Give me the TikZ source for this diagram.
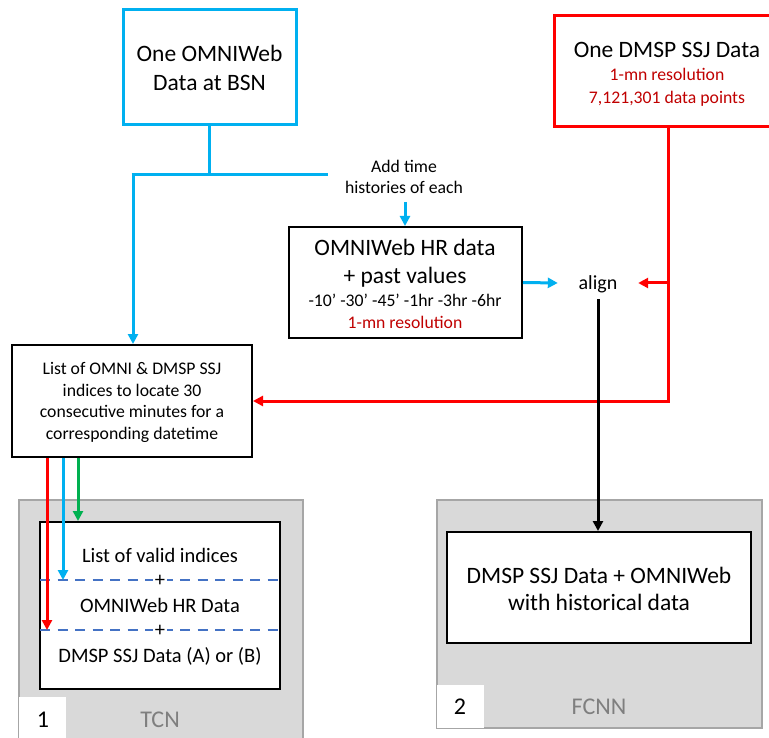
\documentclass[tikz,border=0pt]{standalone}
\usepackage{fontspec}
\setmainfont{Carlito}
\usetikzlibrary{arrows.meta}
\definecolor{cblue}{HTML}{00B0F0}
\definecolor{cred}{HTML}{FF0000}
\definecolor{dred}{HTML}{C00000}
\definecolor{cgreen}{HTML}{00B050}
\definecolor{gfill}{HTML}{D9D9D9}
\definecolor{gline}{HTML}{A6A6A6}
\definecolor{gtext}{HTML}{7F7F7F}
\definecolor{dashc}{HTML}{4472C4}
\newcommand{\bigf}{\fontsize{23.5}{28.5}\selectfont}
\newcommand{\smallf}{\fontsize{17.7}{21.5}\selectfont}
\newcommand{\midf}{\fontsize{20.5}{24.5}\selectfont}
\newcommand{\labf}{\fontsize{24}{28}\selectfont}
\begin{document}
\begin{tikzpicture}[x=1pt,y=-1pt,
  box/.style={draw=black,line width=2pt,fill=white,align=center,inner sep=0pt,anchor=center},
  graybox/.style={draw=gline,line width=2pt,fill=gfill,inner sep=0pt,anchor=center},
  tag/.style={fill=white,inner sep=0pt,anchor=center},
  txt/.style={inner sep=0pt,anchor=base},
  tip/.style={-{Triangle[length=10pt,width=10pt]}},
  conn/.style={line width=3pt},
  dashsep/.style={draw=dashc,line width=2pt,dash pattern=on 10pt off 7.5pt}]
\useasboundingbox (0,0) rectangle (769,738);
\clip (0,0) rectangle (769,738);
\fill[white] (0,0) rectangle (769,738);

% gray panels
\node[graybox,minimum width=284pt,minimum height=260pt] (g1) at (161,630) {};
\node[graybox,minimum width=325pt,minimum height=228pt] (g2) at (599.5,614) {};
\node[tag,minimum width=47pt,minimum height=50pt] (lab1) at (42.5,722) {};
\node[tag,minimum width=47pt,minimum height=43pt] (lab2) at (460.5,706.5) {};
\node[txt,font=\labf] (n1) at (43,727.5) {1};
\node[txt,font=\labf,text=gtext] (tcn) at (160,727.5) {TCN};
\node[txt,font=\labf] (n2) at (460,714.7) {2};
\node[txt,font=\labf,text=gtext] (fcnn) at (599,714.7) {FCNN};

% top boxes
\node[box,draw=cblue,line width=3pt,minimum width=173pt,minimum height=115pt] (omni) at (209.5,67.5) {};
\node[txt,font=\bigf] (omni1) at (209.5,61.6) {One OMNIWeb};
\node[txt,font=\bigf] (omni2) at (209.5,90.6) {Data at BSN};

\node[box,draw=cred,line width=3pt,minimum width=228pt,minimum height=111pt] (dmsp) at (668,71.5) {};
\node[txt,font=\bigf] (dm1) at (667,57.6) {One DMSP SSJ Data};
\node[txt,font=\smallf,text=dred] (dm2) at (667,80.7) {1-mn resolution};
\node[txt,font=\smallf,text=dred] (dm3) at (667,103.2) {7,121,301 data points};

\node[txt,font=\smallf] (add1) at (404,172.7) {Add time};
\node[txt,font=\smallf] (add2) at (404,193.7) {histories of each};

\node[box,minimum width=233pt,minimum height=111pt] (hr) at (405.5,282.5) {};
\node[txt,font=\bigf] (hr1) at (405,255.1) {OMNIWeb HR data};
\node[txt,font=\bigf] (hr2) at (405,283.6) {+ past values};
\node[txt,font=\smallf] (hr3) at (405,306.7) {-10' -30' -45' -1hr -3hr -6hr};
\node[txt,font=\smallf,text=dred] (hr4) at (405,328.7) {1-mn resolution};

\node[inner sep=0pt,font=\fontsize{20}{24}\selectfont,text height=16.2pt,text depth=3pt,minimum width=80pt,minimum height=32pt] (align) at (598,283) {align};

\node[box,minimum width=240pt,minimum height=112pt] (list) at (132,401) {};
\node[txt,font=\smallf] (l1) at (132,374.7) {List of OMNI \& DMSP SSJ};
\node[txt,font=\smallf] (l2) at (132,396.2) {indices to locate 30};
\node[txt,font=\smallf] (l3) at (132,417.7) {consecutive minutes for a};
\node[txt,font=\smallf] (l4) at (132,439.2) {corresponding datetime};

% inner boxes
\node[box,minimum width=240pt,minimum height=167pt] (in1) at (160,605.5) {};
\node[box,minimum width=304pt,minimum height=111pt] (in2) at (599,587.5) {};
\node[txt,font=\bigf] (in2a) at (599,583.6) {DMSP SSJ Data + OMNIWeb};
\node[txt,font=\bigf] (in2b) at (599,610.6) {with historical data};

\coordinate (d1l) at (40,580);
\coordinate (d1r) at (280,580);
\coordinate (d2l) at (40,630);
\coordinate (d2r) at (280,630);
\draw[dashsep] (d1l) -- (d1r);
\draw[dashsep] (d2l) -- (d2r);
\node[txt,font=\midf] (t1) at (160,562.6) {List of valid indices};
\node[font=\midf,fill=white,inner xsep=2pt,inner ysep=0pt] (p1) at (160,581) {+};
\node[txt,font=\midf] (t2) at (160,612.6) {OMNIWeb HR Data};
\node[font=\midf,fill=white,inner xsep=2pt,inner ysep=0pt] (p2) at (160,631) {+};
\node[txt,font=\midf] (t3) at (160,662.6) {DMSP SSJ Data (A) or (B)};

% blue connectors
\coordinate (bj) at (omni.south |- 0,175);
\coordinate (bl) at (133,175);
\coordinate (br) at (328,175);
\draw[conn,cblue] (omni.south) -- (bj);
\draw[conn,cblue] ([xshift=-1.5pt]bl) -- (br);
\draw[conn,cblue,tip] (bl) -- (bl |- list.north);
\coordinate (addb) at (405,202);
\draw[conn,cblue,tip] (addb) -- (addb |- hr.north);
\draw[conn,cblue,tip] (hr.east) -- (align.west);

% red connectors
\coordinate (rj) at (dmsp.south |- align.east);
\coordinate (rc) at (dmsp.south |- list.east);
\draw[conn,cred,tip] (rj) -- (align.east);
\draw[conn,cred,tip] (dmsp.south) -- (rc) -- (list.east);

% black connector
\draw[conn,black,tip] (align.south) -- (align.south |- in2.north);

% three coloured connectors
\coordinate (lr) at ([xshift=36pt]list.south west);
\coordinate (lb) at ([xshift=52pt]list.south west);
\coordinate (lg) at ([xshift=67pt]list.south west);
\draw[conn,cred,tip] (lr) -- (lr |- d2l);
\draw[conn,cblue,tip] (lb) -- (lb |- d1l);
\draw[conn,cgreen,tip] (lg) -- (lg |- in1.north);
\end{tikzpicture}
\end{document}
